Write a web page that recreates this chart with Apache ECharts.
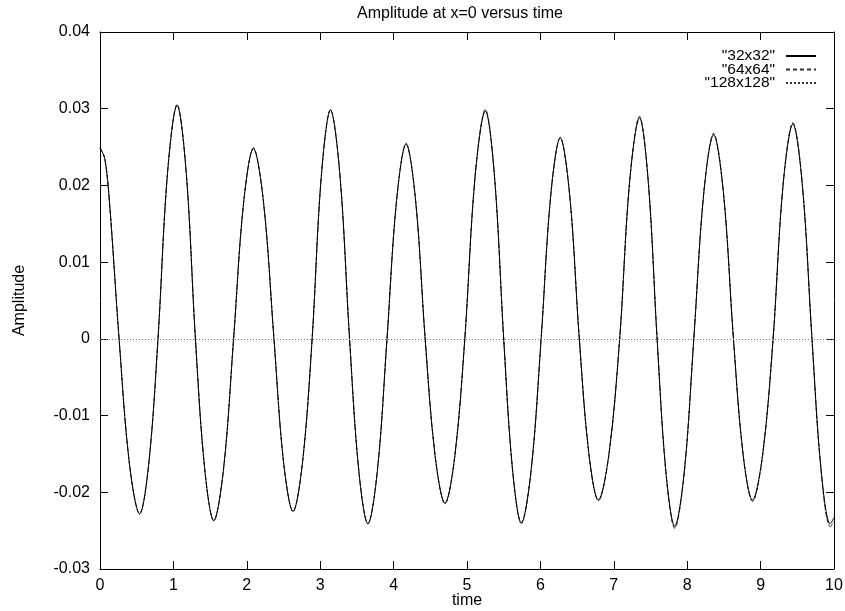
<!DOCTYPE html>
<html>
<head>
<meta charset="utf-8">
<script src="https://cdn.jsdelivr.net/npm/echarts@6/dist/echarts.min.js"></script>
<style>
html,body{margin:0;padding:0;background:#fff;}
#c{width:845px;height:611px;}
</style>
</head>
<body>
<div id="c"></div>
<script>
// time samples
var time = [0, 0.065, 0.13, 0.26, 0.40, 0.54, 0.665, 0.79, 0.92, 1.05, 1.175, 1.30, 1.425, 1.55, 1.685, 1.82, 1.955, 2.09, 2.23, 2.37, 2.50, 2.63, 2.76, 2.89, 3.015, 3.14, 3.27, 3.40, 3.525, 3.65, 3.78, 3.91, 4.04, 4.17, 4.30, 4.43, 4.565, 4.70, 4.835, 4.97, 5.11, 5.25, 5.375, 5.50, 5.62, 5.74, 5.875, 6.01, 6.14, 6.27, 6.40, 6.53, 6.66, 6.79, 6.935, 7.08, 7.215, 7.35, 7.47, 7.59, 7.71, 7.83, 7.96, 8.09, 8.225, 8.36, 8.495, 8.63, 8.76, 8.89, 9.03, 9.17, 9.305, 9.44, 9.57, 9.70, 9.825, 9.95, 10.0];
var amp32 = [0.0249, 0.0235, 0.0177, 0, -0.0162, -0.0228, -0.0162, 0, 0.0216, 0.0304, 0.0216, 0, -0.0168, -0.0237, -0.0168, 0, 0.0176, 0.0248, 0.0176, 0, -0.0160, -0.0225, -0.0160, 0, 0.0212, 0.0298, 0.0212, 0, -0.0171, -0.0241, -0.0171, 0, 0.0180, 0.0254, 0.0180, 0, -0.0152, -0.0214, -0.0152, 0, 0.0211, 0.0297, 0.0211, 0, -0.0170, -0.0240, -0.0170, 0, 0.0186, 0.0262, 0.0186, 0, -0.0149, -0.0210, -0.0149, 0, 0.0204, 0.0288, 0.0204, 0, -0.0173, -0.0244, -0.0173, 0, 0.0189, 0.0266, 0.0189, 0, -0.0149, -0.0210, -0.0149, 0, 0.0199, 0.0280, 0.0199, 0, -0.0171, -0.0241, -0.0233];
var amp64 = [0.0249, 0.0235, 0.0177, 0, -0.0162, -0.0228, -0.0162, 0, 0.0217, 0.0306, 0.0217, 0, -0.0168, -0.0237, -0.0168, 0, 0.0176, 0.0249, 0.0176, 0, -0.0160, -0.0225, -0.0160, 0, 0.0212, 0.0299, 0.0212, 0, -0.0171, -0.0241, -0.0171, 0, 0.0180, 0.0254, 0.0180, 0, -0.0152, -0.0215, -0.0152, 0, 0.0212, 0.0299, 0.0212, 0, -0.0170, -0.0240, -0.0170, 0, 0.0186, 0.0262, 0.0186, 0, -0.0150, -0.0211, -0.0150, 0, 0.0205, 0.0290, 0.0205, 0, -0.0175, -0.0247, -0.0175, 0, 0.0190, 0.0268, 0.0190, 0, -0.0150, -0.0212, -0.0150, 0, 0.0200, 0.0282, 0.0200, 0, -0.0173, -0.0245, -0.0238];
var amp128 = [0.0249, 0.0235, 0.0177, 0, -0.0162, -0.0228, -0.0162, 0, 0.0217, 0.0305, 0.0217, 0, -0.0168, -0.0237, -0.0168, 0, 0.0176, 0.0249, 0.0176, 0, -0.0160, -0.0225, -0.0160, 0, 0.0212, 0.0299, 0.0212, 0, -0.0171, -0.0241, -0.0171, 0, 0.0180, 0.0255, 0.0180, 0, -0.0152, -0.0215, -0.0152, 0, 0.0212, 0.0299, 0.0212, 0, -0.0171, -0.0241, -0.0171, 0, 0.0187, 0.0263, 0.0187, 0, -0.0150, -0.0211, -0.0150, 0, 0.0205, 0.0289, 0.0205, 0, -0.0174, -0.0246, -0.0174, 0, 0.0189, 0.0267, 0.0189, 0, -0.0150, -0.0212, -0.0150, 0, 0.0200, 0.0281, 0.0200, 0, -0.0173, -0.0244, -0.0240];
var seriesNames = ['"32x32"', '"64x64"', '"128x128"'];
var xTicks = [0, 1, 2, 3, 4, 5, 6, 7, 8, 9, 10];
var yTicks = [-0.03, -0.02, -0.01, 0, 0.01, 0.02, 0.03, 0.04];

function pairs(v) { return time.map(function (t, i) { return [t, v[i]]; }); }
var FONT = 'Liberation Sans, Arial, sans-serif';
var FS = 16;
var chart = echarts.init(document.getElementById('c'), null, { renderer: 'canvas' });
function yfmt(v) { var r = Math.round(v * 100) / 100; return r === 0 ? '0' : String(r); }
var axisLineStyle = { color: '#000', width: 1 };
function mirrorX(pos, showLabel) {
  return {
    type: 'value', position: pos, min: xTicks[0], max: xTicks[xTicks.length - 1], interval: 1,
    axisLine: { show: true, onZero: false, lineStyle: axisLineStyle },
    axisTick: { show: true, inside: true, length: 8, lineStyle: axisLineStyle },
    axisLabel: { show: showLabel, fontFamily: FONT, fontSize: FS, color: '#000', margin: 9 },
    splitLine: { show: false }
  };
}
function mirrorY(pos, showLabel) {
  return {
    type: 'value', position: pos, min: yTicks[0], max: yTicks[yTicks.length - 1], interval: 0.01,
    axisLine: { show: true, onZero: false, lineStyle: axisLineStyle },
    axisTick: { show: true, inside: true, length: 8, lineStyle: axisLineStyle },
    axisLabel: { show: showLabel, fontFamily: FONT, fontSize: FS, color: '#000', margin: 10, formatter: yfmt },
    splitLine: { show: false }
  };
}
var xb = mirrorX('bottom', true);
xb.name = 'time'; xb.nameLocation = 'middle'; xb.nameGap = 24; xb.nameMoveOverlap = false;
xb.nameTextStyle = { fontFamily: FONT, fontSize: FS, color: '#000' };
var yl = mirrorY('left', true);
yl.name = 'Amplitude'; yl.nameLocation = 'middle'; yl.nameGap = 72; yl.nameRotate = 90; yl.nameMoveOverlap = false;
yl.nameTextStyle = { fontFamily: FONT, fontSize: FS, color: '#000' };

var opt = {
  animation: false,
  backgroundColor: '#fff',
  title: {
    text: 'Amplitude at x=0 versus time',
    left: 455, top: 1, textAlign: 'center',
    textStyle: { fontFamily: FONT, fontSize: FS, fontWeight: 'normal', color: '#000' }
  },
  legend: {
    orient: 'vertical', right: 28, top: 48, align: 'right', padding: 0,
    itemWidth: 30, itemHeight: 12, itemGap: -2.5,
    itemStyle: { color: 'rgba(0,0,0,0)', borderColor: 'rgba(0,0,0,0)', borderWidth: 0 },
    textStyle: { fontFamily: FONT, fontSize: 15.5, color: '#000', padding: [0, 6, 0, 0] },
    data: seriesNames
  },
  grid: { left: 100, right: 11, top: 32, bottom: 42, containLabel: false, outerBoundsMode: 'none' },
  xAxis: [xb, mirrorX('top', false)],
  yAxis: [yl, mirrorY('right', false)],
  series: [
    {
      name: seriesNames[0], type: 'line', data: pairs(amp32), smooth: 0.35,
      showSymbol: false, symbol: 'none', lineStyle: { color: '#000', width: 1, type: 'solid' }, itemStyle: { color: '#000' },
      markLine: {
        silent: true, symbol: 'none', label: { show: false },
        lineStyle: { color: '#777', width: 1, type: [1, 2] },
        data: [{ yAxis: 0 }]
      }, z: 3
    },
    {
      name: seriesNames[1], type: 'line', data: pairs(amp64), smooth: 0.35,
      showSymbol: false, symbol: 'none', lineStyle: { color: '#333', width: 1, type: [4, 3] }, itemStyle: { color: '#333' }, z: 2
    },
    {
      name: seriesNames[2], type: 'line', data: pairs(amp128), smooth: 0.35,
      showSymbol: false, symbol: 'none', lineStyle: { color: '#333', width: 1, type: [2, 2] }, itemStyle: { color: '#333' }, z: 1
    }
  ]
};
chart.setOption(opt);
</script>
</body>
</html>
